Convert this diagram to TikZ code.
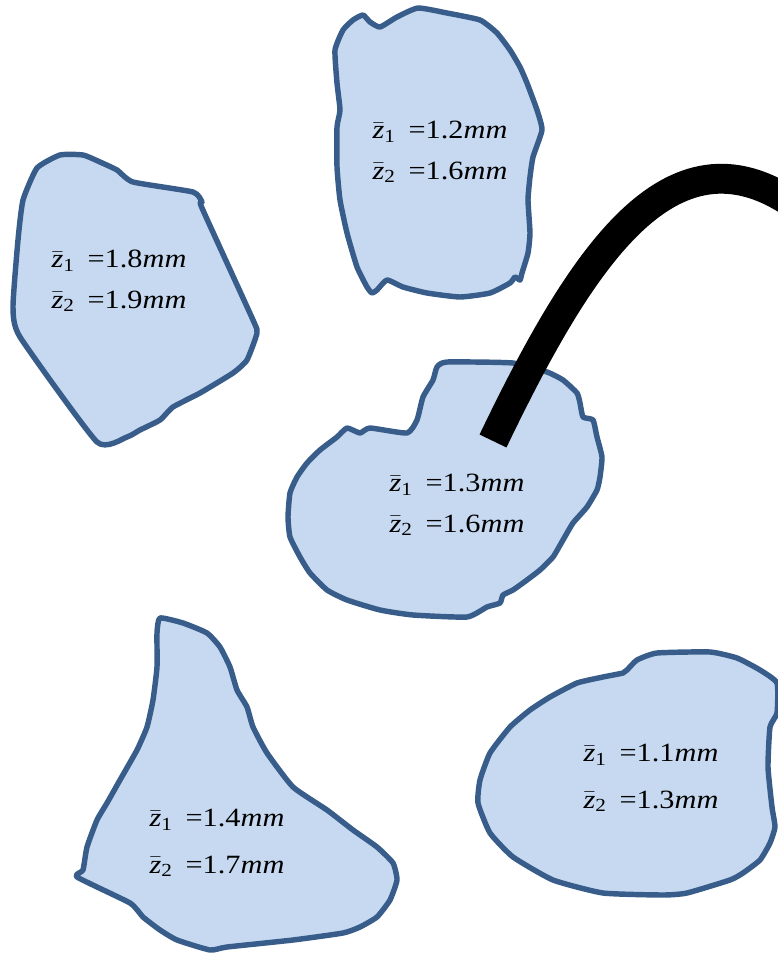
\documentclass[tikz,border=0pt]{standalone}
\usepackage{fontspec}
\setmainfont{Liberation Serif}
\usepackage{graphicx}

\definecolor{relleno}{HTML}{C6D9F0}
\definecolor{borde}{HTML}{385D8A}

\newcommand{\zb}[1]{$\bar{\mbox{\itshape z}}_{\mbox{\fontsize{10.5}{10.5}\selectfont #1}}$}
\newcommand{\zval}[2]{\scalebox{1.15}[1]{\zb{#1} \,=#2\textit{mm}}}

\tikzset{
  grano/.style={draw=borde, fill=relleno, line width=3.1pt, line join=round},
  valores/.style={align=left, inner sep=0pt, font=\fontsize{15}{23}\selectfont}
}

\begin{document}
\begin{tikzpicture}[x=0.02cm, y=-0.02cm]
                \useasboundingbox (0,0) rectangle (778,954);

                % Grano arriba a la izquierda
                \draw[grano] plot[smooth cycle, tension=0.3] coordinates {
                  (97,442) (20,337) (13,307) (18,240) (23,200) (37,168) (60,155) (83,155)
                  (100,162) (117,170) (133,182) (193,192) (202,202) (202,208) (253,320)
                  (257,333) (247,360) (233,373) (200,393) (173,407) (160,420) (140,430) (127,437)};
                \node[valores] (g1) at (119,281) {\zval{1}{1.8}\\\zval{2}{1.9}};

                % Grano arriba al centro
                \draw[grano] plot[smooth cycle, tension=0.3] coordinates {
                  (363,15) (370,22) (380,27) (397,17) (418,8) (447,13) (480,20) (497,33)
                  (510,50) (520,67) (527,83) (537,110) (542,130) (533,157) (530,177) (528,200)
                  (530,233) (528,253) (522,273) (520,280) (515,277) (510,283) (490,293)
                  (460,297) (427,293) (403,287) (387,280) (377,290) (372,293) (367,287)
                  (357,267) (347,233) (340,200) (337,167) (337,127) (340,110) (337,83)
                  (335,50) (343,30) (353,20)};
                \node[valores] (g2) at (440,152) {\zval{1}{1.2}\\\zval{2}{1.6}};

                % Grano central
                \draw[grano] plot[smooth cycle, tension=0.3] coordinates {
                  (447,362) (513,363) (547,372) (563,380) (577,393) (580,403) (583,417)
                  (593,420) (597,437) (602,457) (600,477) (597,490) (587,507) (573,523)
                  (563,540) (553,557) (540,570) (527,580) (513,590) (503,595) (500,603)
                  (487,607) (467,617) (413,615) (380,610) (347,600) (327,590) (310,573)
                  (300,557) (290,537) (288,517) (290,493) (297,477) (307,463) (320,450)
                  (337,437) (347,428) (360,433) (370,428) (407,433) (417,420) (423,397)
                  (433,380) (437,367)};
                \node[valores] (g3) at (457,505) {\zval{1}{1.3}\\\zval{2}{1.6}};

                % Grano abajo a la izquierda
                \draw[grano] plot[smooth cycle, tension=0.3] coordinates {
                  (160,618) (183,623) (207,633) (220,647) (230,667) (237,690) (247,707)
                  (253,727) (267,753) (293,787) (327,810) (353,830) (377,847) (393,863)
                  (397,880) (390,900) (377,917) (360,927) (343,933) (293,940) (227,947)
                  (210,950) (177,940) (160,930) (143,917) (130,903) (77,877) (83,870)
                  (87,847) (97,820) (107,803) (120,780) (137,750) (147,727) (153,700)
                  (157,667) (157,633)};
                \node[valores] (g4) at (217,843) {\zval{1}{1.4}\\[3.6pt]\zval{2}{1.7}};

                % Grano abajo a la derecha
                \draw[grano] plot[smooth cycle, tension=0.3] coordinates {
                  (627,670) (637,660) (657,653) (710,652) (737,658) (760,670) (777,683)
                  (777,713) (770,727) (768,767) (772,807) (775,827) (770,843) (760,860)
                  (743,873) (730,880) (687,893) (663,895) (603,893) (553,880) (513,857)
                  (490,833) (478,803) (480,780) (490,753) (510,727) (530,710) (550,697)
                  (577,683) (603,677) (623,673)};
                \node[valores] (g5) at (651,778) {\zval{1}{1.1}\\[3.6pt]\zval{2}{1.3}};

                % Punta
                \coordinate (punta) at (493,441);
                \coordinate (fuera) at (795,205);
                \draw[line width=17pt] (punta) .. controls (580,260) and (670,118) .. (fuera);

\end{tikzpicture}
\end{document}
